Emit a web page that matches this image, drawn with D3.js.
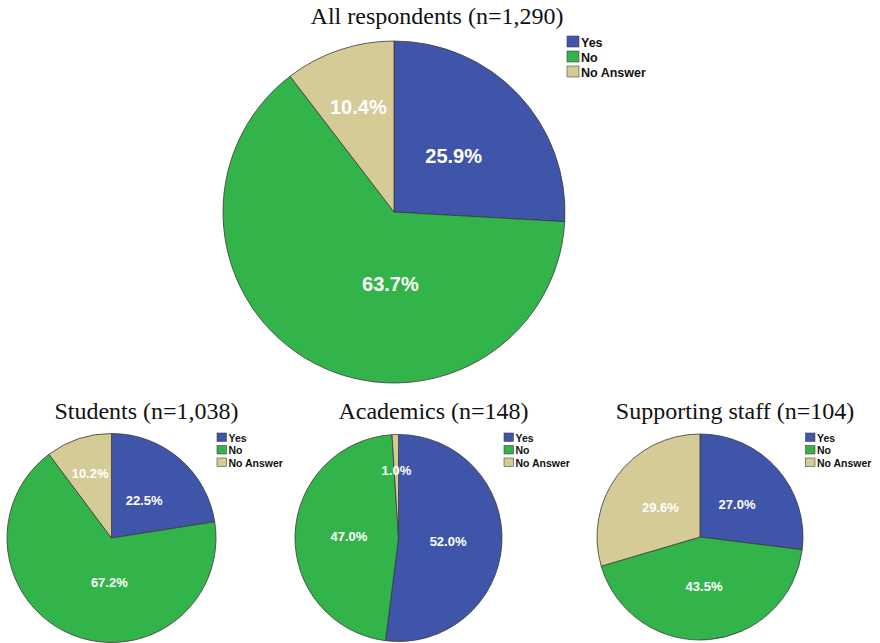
<!DOCTYPE html>
<html>
<head>
<meta charset="utf-8">
<script src="https://cdn.jsdelivr.net/npm/d3@7"></script>
<style>
  html, body { margin: 0; padding: 0; background: #ffffff; }
  svg { display: block; }
</style>
</head>
<body>
<svg id="chart" width="880" height="643"></svg>
<script>
// Response categories and shares (%) for each respondent group
const categories = ["Yes", "No", "No Answer"];
const groupTitles = [
  "All respondents (n=1,290)",
  "Students (n=1,038)",
  "Academics (n=148)",
  "Supporting staff (n=104)"
];
const allRespondents  = [25.9, 63.7, 10.4];
const students        = [22.5, 67.2, 10.2];
const academics       = [52.0, 47.0, 1.0];
const supportingStaff = [27.0, 43.5, 29.6];

const colours = d3.scaleOrdinal()
  .domain(categories)
  .range(["#3f55a9", "#33b44a", "#d5cb97"]);

// Panel layout: one large pie on top, three smaller ones below
const panels = [
  { title: groupTitles[0], values: allRespondents,  cx: 394,   cy: 212, r: 171, big: true },
  { title: groupTitles[1], values: students,        cx: 111.5, cy: 538, r: 104.5 },
  { title: groupTitles[2], values: academics,       cx: 398.5, cy: 538, r: 103.5 },
  { title: groupTitles[3], values: supportingStaff, cx: 700,   cy: 537, r: 103 }
];

const svg = d3.select("#chart");
const pie = d3.pie().sort(null).value(d => d.value);
const fmt = d3.format(".1f");

panels.forEach(p => {
  const g = svg.append("g").attr("transform", `translate(${p.cx},${p.cy})`);
  const arcs = pie(categories.map((c, i) => ({ category: c, value: p.values[i] })));
  const total = d3.sum(p.values);
  const arc = d3.arc().innerRadius(0).outerRadius(p.r);

  g.selectAll("path.slice")
    .data(arcs)
    .join("path")
    .attr("class", "slice")
    .attr("d", arc)
    .attr("fill", d => colours(d.data.category))
    .attr("stroke", "#3a3a3a")
    .attr("stroke-width", 0.8)
    .attr("stroke-linejoin", "round");

  // Percentage labels inside each slice
  const labelPos = d => {
    const share = d.data.value / total;
    let angle = (d.startAngle + d.endAngle) / 2;
    let rr = 0.48;
    if (share > 0.55) { angle = Math.PI + 0.05; rr = 0.42; }
    else if (share < 0.15) { rr = 0.65; }
    return [Math.sin(angle) * p.r * rr, -Math.cos(angle) * p.r * rr];
  };

  g.selectAll("text.pct")
    .data(arcs)
    .join("text")
    .attr("class", "pct")
    .attr("x", d => labelPos(d)[0])
    .attr("y", d => labelPos(d)[1])
    .attr("dy", "0.36em")
    .attr("text-anchor", "middle")
    .attr("fill", "#ffffff")
    .attr("font-family", "'Liberation Sans', Arial, sans-serif")
    .attr("font-weight", "bold")
    .attr("font-size", p.big ? 20 : 13)
    .text(d => fmt(d.data.value) + "%");

  // Title
  svg.append("text")
    .attr("x", p.cx + (p.big ? 43 : 35))
    .attr("y", p.big ? 24 : 419)
    .attr("text-anchor", "middle")
    .attr("font-family", "'Liberation Serif', 'Times New Roman', serif")
    .attr("font-size", 24)
    .attr("fill", "#111")
    .text(p.title);

  // Legend
  const lg = svg.append("g")
    .attr("transform", p.big
      ? `translate(${p.cx + 173},${36})`
      : `translate(${p.cx + 105.5},${433})`);
  const box = p.big ? 11 : 8.5;
  const step = p.big ? 15 : 12.5;
  const items = lg.selectAll("g.item")
    .data(categories)
    .join("g")
    .attr("class", "item")
    .attr("transform", (d, i) => `translate(0,${i * step})`);
  items.append("rect")
    .attr("width", box + 1)
    .attr("height", box)
    .attr("fill", d => colours(d))
    .attr("stroke", "#444")
    .attr("stroke-width", 0.6);
  items.append("text")
    .attr("x", box + 3)
    .attr("y", box)
    .attr("font-family", "'Liberation Sans', Arial, sans-serif")
    .attr("font-weight", "bold")
    .attr("font-size", p.big ? 12.5 : 10.5)
    .attr("fill", "#111")
    .text(d => d);
});
</script>
</body>
</html>
